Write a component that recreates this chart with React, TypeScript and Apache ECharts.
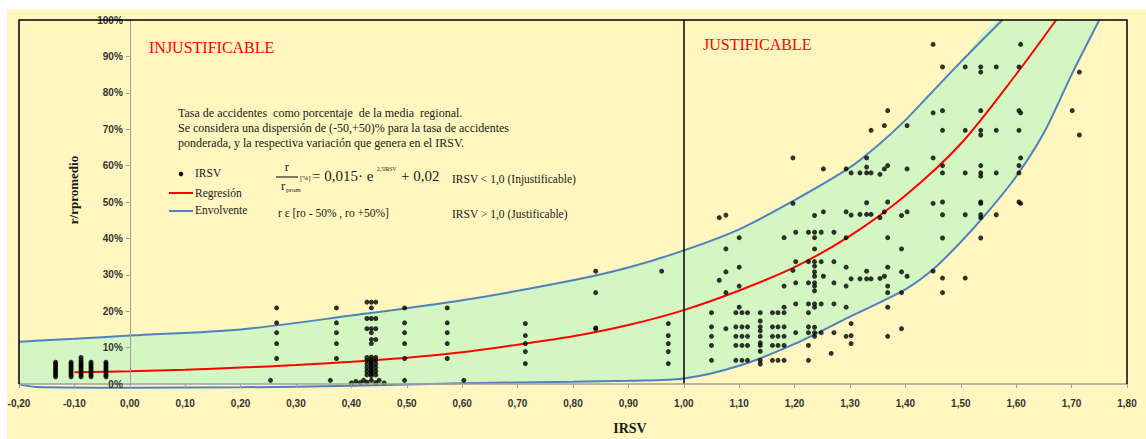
import React, { useEffect, useRef } from "react";
import * as echarts from "echarts";

const X_MIN = -0.2;
const X_MAX = 1.8;
const X_STEP = 0.1;
const Y_MIN = 0;
const Y_MAX = 100;
const Y_STEP = 10;

// Regression r/rprom [%] = 0,015·e^(2,5 IRSV) + 0,02
const REGRESSION: [number, number][] = [
  [-0.1, 3.2], [0.0, 3.5], [0.1, 3.9], [0.2, 4.5], [0.3, 5.2], [0.4, 6.1],
  [0.5, 7.2], [0.6, 8.7], [0.7, 10.8], [0.8, 13.1], [0.9, 16.2], [1.0, 20.3],
  [1.1, 25.7], [1.2, 32.1], [1.3, 40.7], [1.4, 51.8], [1.5, 66.0], [1.6, 85.1], [1.672, 100],
];

const UPPER_ENVELOPE: [number, number][] = [
  [-0.2, 11.6], [-0.17, 11.9], [-0.1, 12.4], [0.0, 13.3], [0.2, 15.0], [0.4, 18.8],
  [0.6, 23.0], [0.8, 28.5], [0.9, 32.0], [1.0, 36.7], [1.1, 42.5], [1.2, 50.5],
  [1.3, 59.5], [1.35, 65.5], [1.4, 72.5], [1.45, 80.5], [1.5, 88.5], [1.575, 100],
];

const LOWER_ENVELOPE: [number, number][] = [
  [-0.2, -0.1], [-0.17, -0.8], [0.0, -1.0], [0.2, -0.9], [0.4, -0.5], [0.6, 0.2],
  [0.8, 0.6], [0.9, 0.9], [1.0, 1.5], [1.1, 5.0], [1.2, 11.0], [1.3, 18.5],
  [1.4, 26.0], [1.45, 31.5], [1.5, 39.0], [1.55, 47.5], [1.6, 57.0], [1.65, 69.0],
  [1.7, 85.0], [1.75, 100],
];

const BAND_TOP_CORNER: [number, number] = [1.75, 100];

const COMMON_SET = [6.5, 10.6, 13.1, 15.7, 19.6];
const LOW_STACK = [2, 2.5, 3, 3.5, 4, 4.5, 5, 5.5, 6];

// IRSV value, list of r/rprom [%] values observed at that IRSV
const DOT_COLUMNS: [number, number[]][] = [
  [-0.134, LOW_STACK],
  [-0.106, LOW_STACK],
  [-0.088, [...LOW_STACK, 6.6, 7.3]],
  [-0.07, LOW_STACK],
  [-0.043, LOW_STACK],
  [0.254, [1.0]],
  [0.265, [7.0, 11.1, 14.1, 16.8, 20.9]],
  [0.362, [1.0]],
  [0.373, [7.0, 11.1, 14.1, 16.8, 20.9]],
  [0.4, [0.3]], [0.408, [0.7]], [0.416, [0.4]], [0.422, [1.0]],
  [0.428, [0.5, 2.5, 3.5, 4.5, 5.5, 6.5, 7.3, 15.2, 18.0, 22.5]],
  [0.436, [1.0, 2.3, 2.8, 3.3, 3.8, 4.3, 4.8, 5.3, 5.8, 6.3, 6.8, 7.4, 11.1, 12.2, 14.1, 15.2, 18.0, 20.9, 22.5]],
  [0.444, [0.4, 2.5, 3.5, 4.5, 5.5, 6.5, 7.3, 12.2, 15.2, 18.0, 22.5]],
  [0.45, [1.0]], [0.459, [0.3]],
  [0.496, [1.0, 7.0, 11.1, 14.1, 16.8, 20.9]],
  [0.573, [7.0, 11.1, 14.1, 16.8, 20.9]],
  [0.603, [1.0]],
  [0.714, [5.6, 8.9, 11.1, 13.3, 16.6]],
  [0.841, [15.1, 15.4, 25.1, 31.0]],
  [0.96, [31.0]],
  [0.972, [5.6, 8.9, 11.1, 13.3, 16.6]],
  [1.05, COMMON_SET],
  [1.064, [28.5, 45.7]],
  [1.076, [15.2, 25.1, 30.8, 37.1, 46.4]],
  [1.094, COMMON_SET],
  [1.1, [21.1, 26.9, 32.1, 40.2]],
  [1.105, COMMON_SET],
  [1.115, COMMON_SET],
  [1.138, [5.5, 6.5, 9.0, 10.6, 11.3, 13.1, 14.6, 15.7, 17.3, 19.6]],
  [1.16, COMMON_SET],
  [1.17, COMMON_SET],
  [1.181, [...COMMON_SET, 21.1, 26.9, 40.2]],
  [1.197, [31.2, 49.6, 62.1]],
  [1.202, [14.1, 22.0, 27.8, 33.6, 41.7]],
  [1.225, [6.5, 10.6, 14.1, 15.7, 19.6, 22.0, 27.8, 33.6, 41.7]],
  [1.236, [13.1, 14.1, 15.6, 21.1, 22.0, 25.6, 26.9, 27.8, 29.6, 30.8, 32.4, 33.6, 37.1, 40.2, 41.7, 46.3]],
  [1.248, [14.1, 22.0, 33.6, 41.7]],
  [1.252, [29.6, 47.3, 59.1]],
  [1.266, [8.4]],
  [1.271, [14.1, 22.0, 27.8, 33.6, 41.7]],
  [1.293, [13.1, 21.1, 26.9, 32.1, 40.2, 47.3, 59.1]],
  [1.302, [11.1, 13.3, 16.6, 28.9, 46.4, 58.0]],
  [1.318, [28.9, 46.6, 58.0]],
  [1.33, [28.9, 31.0, 46.6, 49.8, 58.0, 59.6, 62.1]],
  [1.338, [28.9, 46.6, 58.0, 69.7]],
  [1.354, [29.0, 45.7, 57.6]],
  [1.362, [29.6, 47.3, 59.1, 71.0]],
  [1.368, [13.1, 21.1, 25.1, 26.9, 32.1, 40.2, 50.0, 60.0, 75.1]],
  [1.393, [15.2, 25.1, 30.8, 37.1, 46.3]],
  [1.403, [29.6, 47.3, 59.1, 71.0]],
  [1.45, [31.0, 49.6, 62.1, 74.5, 93.3]],
  [1.467, [25.1, 29.1, 40.1, 46.5, 50.0, 58.0, 60.0, 69.7, 75.1, 87.1]],
  [1.508, [29.1, 46.5, 58.0, 69.7, 87.1]],
  [1.536, [40.1, 45.7, 46.5, 49.6, 50.0, 57.1, 58.0, 60.0, 68.4, 69.7, 75.1, 85.7, 87.1]],
  [1.564, [46.5, 58.0, 69.7, 87.1]],
  [1.605, [50.0, 58.0, 60.0, 69.7, 75.1, 87.1]],
  [1.608, [49.6, 62.1, 74.5, 93.3]],
  [1.701, [75.1]],
  [1.714, [68.4, 85.7]],
];

const DIVIDER_IRSV = 1.0;

const TITLE_LEFT = "INJUSTIFICABLE";
const TITLE_RIGHT = "JUSTIFICABLE";
const NOTE_LINES = [
  "Tasa de accidentes  como porcentaje  de la media  regional.",
  "Se considera una dispersión de (-50,+50)% para la tasa de accidentes",
  "ponderada, y la respectiva variación que genera en el IRSV.",
];

const YELLOW = "#FFF7BF";
const GREEN = "#D4F6C3";
const BLUE = "#4F81BD";
const RED = "#FF0000";
const SERIF = '"Liberation Serif", "DejaVu Serif", serif';

const GRID_LEFT = 19;
const GRID_RIGHT = 19;

function txt(text: string, x: number, y: number, size: number, opts: any = {}) {
  const align = opts.align || "left";
  return {
    type: "text",
    x,
    y,
    rotation: opts.rotation || 0,
    z: 100,
    silent: true,
    style: {
      text,
      fill: opts.color || "#1a1a1a",
      font: `${opts.weight || "normal"} ${size}px ${SERIF}`,
      textAlign: align,
      align,
      textVerticalAlign: "middle",
      verticalAlign: "middle",
    },
  };
}

export default function App() {
  const ref = useRef<HTMLDivElement>(null);

  useEffect(() => {
    if (!ref.current) return;
    const chart = echarts.init(ref.current, null, { renderer: "svg" });

    const dots: [number, number][] = [];
    DOT_COLUMNS.forEach(([x, vals]) => vals.forEach((v) => dots.push([x, v])));

    const plotWidth = 1146 - GRID_LEFT - GRID_RIGHT;
    // shift the y axis (line, ticks and labels) onto IRSV = 0
    const yAxisOffset = -((0 - X_MIN) / (X_MAX - X_MIN)) * plotWidth;

    const axisLabelStyle = {
      color: "#333",
      fontSize: 10,
      fontWeight: "bold" as const,
      fontFamily: '"Liberation Sans Narrow", "Liberation Sans", sans-serif',
    };

    chart.setOption({
      animation: false,
      backgroundColor: "transparent",
      grid: {
        left: GRID_LEFT,
        right: GRID_RIGHT,
        top: 20,
        bottom: 55,
        containLabel: false,
        outerBoundsMode: "none",
      },
      xAxis: {
        type: "value",
        min: X_MIN,
        max: X_MAX,
        interval: X_STEP,
        z: 5,
        axisLine: { show: true, onZero: false, lineStyle: { color: "#a0a0a0", width: 1.5 } },
        axisTick: { show: true, length: 4, lineStyle: { color: "#a0a0a0" } },
        splitLine: { show: false },
        axisLabel: {
          ...axisLabelStyle,
          margin: 14,
          formatter: (v: number) => v.toFixed(2).replace(".", ","),
        },
      },
      yAxis: {
        type: "value",
        min: Y_MIN,
        max: Y_MAX,
        interval: Y_STEP,
        z: 5,
        offset: yAxisOffset,
        axisLine: { show: true, onZero: false, lineStyle: { color: "#a0a0a0", width: 1 } },
        axisTick: { show: true, length: 4, lineStyle: { color: "#a0a0a0" } },
        splitLine: { show: false },
        axisLabel: { ...axisLabelStyle, margin: 7, formatter: (v: number) => `${v}%` },
      },
      series: [
        {
          type: "line",
          name: "bandUpper",
          data: [...UPPER_ENVELOPE, BAND_TOP_CORNER],
          smooth: 0.3,
          showSymbol: false,
          silent: true,
          lineStyle: { width: 0 },
          areaStyle: { color: GREEN, opacity: 1 },
          z: 1,
        },
        {
          type: "line",
          name: "bandLower",
          data: LOWER_ENVELOPE,
          smooth: 0.3,
          showSymbol: false,
          silent: true,
          lineStyle: { width: 0 },
          areaStyle: { color: YELLOW, opacity: 1 },
          z: 1,
        },
        {
          type: "line",
          name: "Envolvente",
          data: UPPER_ENVELOPE,
          smooth: 0.3,
          showSymbol: false,
          lineStyle: { color: BLUE, width: 2 },
          z: 3,
        },
        {
          type: "line",
          name: "Envolvente inferior",
          data: LOWER_ENVELOPE,
          smooth: 0.3,
          clip: false,
          showSymbol: false,
          lineStyle: { color: BLUE, width: 2 },
          z: 3,
        },
        {
          type: "line",
          name: "Regresión",
          data: REGRESSION,
          smooth: 0.3,
          showSymbol: false,
          lineStyle: { color: RED, width: 2 },
          z: 3,
          markLine: {
            silent: true,
            symbol: ["none", "none"],
            label: { show: false },
            lineStyle: { color: "#000", width: 1.5, type: "solid" },
            data: [{ xAxis: DIVIDER_IRSV }],
          },
        },
        {
          type: "scatter",
          name: "IRSV",
          data: dots,
          symbol: "circle",
          symbolSize: 5,
          itemStyle: { color: "#000" },
          z: 4,
        },
      ],
      graphic: [
        {
          type: "polyline",
          z: 100,
          silent: true,
          shape: { points: [[19, 384], [19, 20], [1127, 20], [1127, 384]] },
          style: { stroke: "#000", lineWidth: 1.5, fill: null },
        },
        txt(TITLE_LEFT, 149, 47, 16, { color: RED }),
        txt(TITLE_RIGHT, 703, 44, 16, { color: RED }),
        txt("r/rpromedio", 73, 190, 13, { weight: "bold", align: "center", rotation: Math.PI / 2 }),
        txt("IRSV", 630, 428, 14, { weight: "bold", align: "center" }),
        txt(NOTE_LINES[0], 178, 113, 12),
        txt(NOTE_LINES[1], 178, 128, 12),
        txt(NOTE_LINES[2], 178, 143, 12),
        {
          type: "circle",
          z: 100,
          silent: true,
          shape: { cx: 181, cy: 174, r: 2.2 },
          style: { fill: "#000" },
        },
        txt("IRSV", 195, 173, 11.5),
        {
          type: "line",
          z: 100,
          silent: true,
          shape: { x1: 169, y1: 193, x2: 193, y2: 193 },
          style: { stroke: RED, lineWidth: 2 },
        },
        txt("Regresión", 195, 193, 11.5),
        {
          type: "line",
          z: 100,
          silent: true,
          shape: { x1: 169, y1: 211, x2: 193, y2: 211 },
          style: { stroke: BLUE, lineWidth: 2 },
        },
        txt("Envolvente", 195, 210, 11.5),
        txt("r", 287, 166, 13, { align: "center" }),
        {
          type: "line",
          z: 100,
          silent: true,
          shape: { x1: 276, y1: 177, x2: 298, y2: 177 },
          style: { stroke: "#000", lineWidth: 1 },
        },
        txt("r", 281, 185, 13),
        txt("prom", 286, 190, 7),
        txt("[%]", 300, 178, 7),
        txt("= 0,015· e", 312, 176, 15),
        txt("2,5IRSV", 377, 169, 5.5),
        txt("+ 0,02", 401, 176, 15),
        txt("IRSV < 1,0 (Injustificable)", 452, 179, 11.5),
        txt("r ε [ro - 50% , ro +50%]", 278, 213, 11.5),
        txt("IRSV > 1,0 (Justificable)", 452, 214, 11.5),
      ],
    });

    return () => chart.dispose();
  }, []);

  return (
    <div style={{ position: "fixed", left: 0, top: 0, width: 1146, height: 439, background: "#fff" }}>
      <div style={{ position: "absolute", left: 7, top: 9, width: 1139, height: 430, background: YELLOW }} />
      <div ref={ref} style={{ position: "absolute", left: 0, top: 0, width: 1146, height: 439 }} />
    </div>
  );
}
